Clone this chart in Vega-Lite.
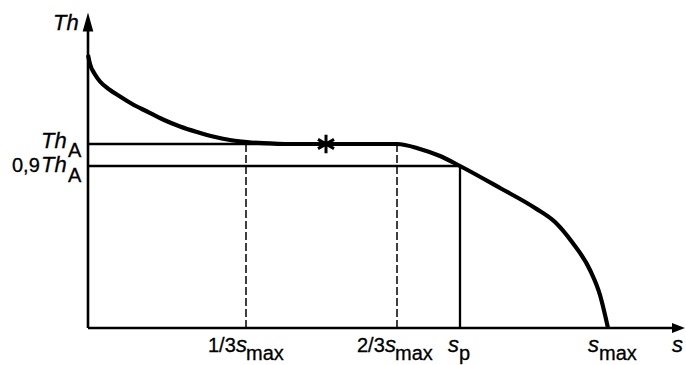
{
  "$schema": "https://vega.github.io/schema/vega-lite/v6.json",
  "width": 686,
  "height": 365,
  "padding": 0,
  "autosize": {"type": "none"},
  "background": "white",
  "config": {"view": {"stroke": null}},
  "datasets": {
    "curve": [
      {"s": 0, "th": 273}, {"s": 2, "th": 264}, {"s": 7, "th": 253.5}, {"s": 12, "th": 246.5},
      {"s": 22, "th": 238}, {"s": 32, "th": 231.5}, {"s": 45, "th": 223.5}, {"s": 59, "th": 216.5},
      {"s": 75, "th": 208.5}, {"s": 92, "th": 201.5}, {"s": 109, "th": 196}, {"s": 125, "th": 191.5},
      {"s": 142, "th": 188}, {"s": 159, "th": 186}, {"s": 175, "th": 184.8}, {"s": 190, "th": 184.2},
      {"s": 205, "th": 184}, {"s": 309, "th": 184}, {"s": 332, "th": 179},
      {"s": 352, "th": 172}, {"s": 372, "th": 162}, {"s": 412, "th": 140}, {"s": 447, "th": 120},
      {"s": 467, "th": 106}, {"s": 484, "th": 86}, {"s": 502, "th": 58}, {"s": 512, "th": 33},
      {"s": 520, "th": 0}
    ],
    "axes": [
      {"x": 0, "y": 0, "x2": 0, "y2": 298},
      {"x": 0, "y": 0, "x2": 585, "y2": 0}
    ],
    "solid": [
      {"x": 0, "y": 184, "x2": 309, "y2": 184},
      {"x": 0, "y": 162, "x2": 372, "y2": 162},
      {"x": 372, "y": 0, "x2": 372, "y2": 162}
    ],
    "dashed": [
      {"x": 158, "y": 0, "x2": 158, "y2": 184},
      {"x": 309, "y": 0, "x2": 309, "y2": 184}
    ],
    "arrowUp": [{"x": 0, "y": 306}],
    "arrowRight": [{"x": 590.5, "y": 0}],
    "star": [{"x": 238, "y": 184}],
    "normalText": [
      {"x": -76, "y": 156, "t": "0,9"},
      {"x": 120, "y": -24, "t": "1/3"},
      {"x": 269, "y": -24, "t": "2/3"}
    ],
    "italicText": [
      {"x": -35, "y": 298, "t": "Th"},
      {"x": -47, "y": 180, "t": "Th"},
      {"x": -47, "y": 156, "t": "Th"},
      {"x": 148, "y": -24, "t": "s"},
      {"x": 297, "y": -24, "t": "s"},
      {"x": 360, "y": -24, "t": "s"},
      {"x": 500, "y": -24, "t": "s"},
      {"x": 584, "y": -24, "t": "s"}
    ],
    "subText": [
      {"x": -20, "y": 171, "t": "A"},
      {"x": -20, "y": 146, "t": "A"},
      {"x": 158, "y": -32, "t": "max"},
      {"x": 307, "y": -32, "t": "max"},
      {"x": 371, "y": -32, "t": "p"},
      {"x": 511, "y": -32, "t": "max"}
    ]
  },
  "layer": [
    {
      "data": {"name": "dashed"},
      "mark": {"type": "rule", "color": "black", "strokeWidth": 1.5, "strokeDash": [8, 3]},
      "encoding": {
        "x": {"field": "x", "type": "quantitative", "scale": {"domain": [-88, 598], "nice": false, "zero": false}, "axis": null},
        "y": {"field": "y", "type": "quantitative", "scale": {"domain": [-37, 328], "nice": false, "zero": false}, "axis": null},
        "x2": {"field": "x2"},
        "y2": {"field": "y2"}
      }
    },
    {
      "data": {"name": "solid"},
      "mark": {"type": "rule", "color": "black", "strokeWidth": 2.3},
      "encoding": {
        "x": {"field": "x", "type": "quantitative", "scale": {"domain": [-88, 598], "nice": false, "zero": false}, "axis": null},
        "y": {"field": "y", "type": "quantitative", "scale": {"domain": [-37, 328], "nice": false, "zero": false}, "axis": null},
        "x2": {"field": "x2"},
        "y2": {"field": "y2"}
      }
    },
    {
      "data": {"name": "axes"},
      "mark": {"type": "rule", "color": "black", "strokeWidth": 2.6},
      "encoding": {
        "x": {"field": "x", "type": "quantitative", "scale": {"domain": [-88, 598], "nice": false, "zero": false}, "axis": null},
        "y": {"field": "y", "type": "quantitative", "scale": {"domain": [-37, 328], "nice": false, "zero": false}, "axis": null},
        "x2": {"field": "x2"},
        "y2": {"field": "y2"}
      }
    },
    {
      "data": {"name": "curve"},
      "mark": {"type": "line", "color": "black", "strokeWidth": 4.2, "interpolate": "monotone", "strokeCap": "butt"},
      "encoding": {
        "x": {"field": "s", "type": "quantitative", "scale": {"domain": [-88, 598], "nice": false, "zero": false}, "axis": null},
        "y": {"field": "th", "type": "quantitative", "scale": {"domain": [-37, 328], "nice": false, "zero": false}, "axis": null}
      }
    },
    {
      "data": {"name": "arrowUp"},
      "mark": {"type": "point", "shape": "M0,-1L0.56,1L-0.56,1Z", "size": 361, "filled": true, "color": "black", "opacity": 1},
      "encoding": {
        "x": {"field": "x", "type": "quantitative", "scale": {"domain": [-88, 598], "nice": false, "zero": false}, "axis": null},
        "y": {"field": "y", "type": "quantitative", "scale": {"domain": [-37, 328], "nice": false, "zero": false}, "axis": null}
      }
    },
    {
      "data": {"name": "arrowRight"},
      "mark": {"type": "point", "shape": "M1,0L-1,-0.77L-1,0.77Z", "size": 169, "filled": true, "color": "black", "opacity": 1},
      "encoding": {
        "x": {"field": "x", "type": "quantitative", "scale": {"domain": [-88, 598], "nice": false, "zero": false}, "axis": null},
        "y": {"field": "y", "type": "quantitative", "scale": {"domain": [-37, 328], "nice": false, "zero": false}, "axis": null}
      }
    },
    {
      "data": {"name": "star"},
      "mark": {"type": "point", "shape": "M0,-1L0,1M-0.87,-0.5L0.87,0.5M-0.87,0.5L0.87,-0.5", "size": 340, "filled": false, "color": "black", "strokeWidth": 3, "opacity": 1},
      "encoding": {
        "x": {"field": "x", "type": "quantitative", "scale": {"domain": [-88, 598], "nice": false, "zero": false}, "axis": null},
        "y": {"field": "y", "type": "quantitative", "scale": {"domain": [-37, 328], "nice": false, "zero": false}, "axis": null}
      }
    },
    {
      "data": {"name": "normalText"},
      "mark": {"type": "text", "align": "left", "baseline": "alphabetic", "font": "Liberation Sans", "fontSize": 20, "color": "black", "stroke": "black", "strokeWidth": 0.3},
      "encoding": {
        "x": {"field": "x", "type": "quantitative", "scale": {"domain": [-88, 598], "nice": false, "zero": false}, "axis": null},
        "y": {"field": "y", "type": "quantitative", "scale": {"domain": [-37, 328], "nice": false, "zero": false}, "axis": null},
        "text": {"field": "t"}
      }
    },
    {
      "data": {"name": "italicText"},
      "mark": {"type": "text", "align": "left", "baseline": "alphabetic", "font": "Liberation Sans", "fontStyle": "italic", "fontSize": 22, "color": "black", "stroke": "black", "strokeWidth": 0.3},
      "encoding": {
        "x": {"field": "x", "type": "quantitative", "scale": {"domain": [-88, 598], "nice": false, "zero": false}, "axis": null},
        "y": {"field": "y", "type": "quantitative", "scale": {"domain": [-37, 328], "nice": false, "zero": false}, "axis": null},
        "text": {"field": "t"}
      }
    },
    {
      "data": {"name": "subText"},
      "mark": {"type": "text", "align": "left", "baseline": "alphabetic", "font": "Liberation Sans", "fontSize": 20, "color": "black", "stroke": "black", "strokeWidth": 0.3},
      "encoding": {
        "x": {"field": "x", "type": "quantitative", "scale": {"domain": [-88, 598], "nice": false, "zero": false}, "axis": null},
        "y": {"field": "y", "type": "quantitative", "scale": {"domain": [-37, 328], "nice": false, "zero": false}, "axis": null},
        "text": {"field": "t"}
      }
    }
  ]
}
